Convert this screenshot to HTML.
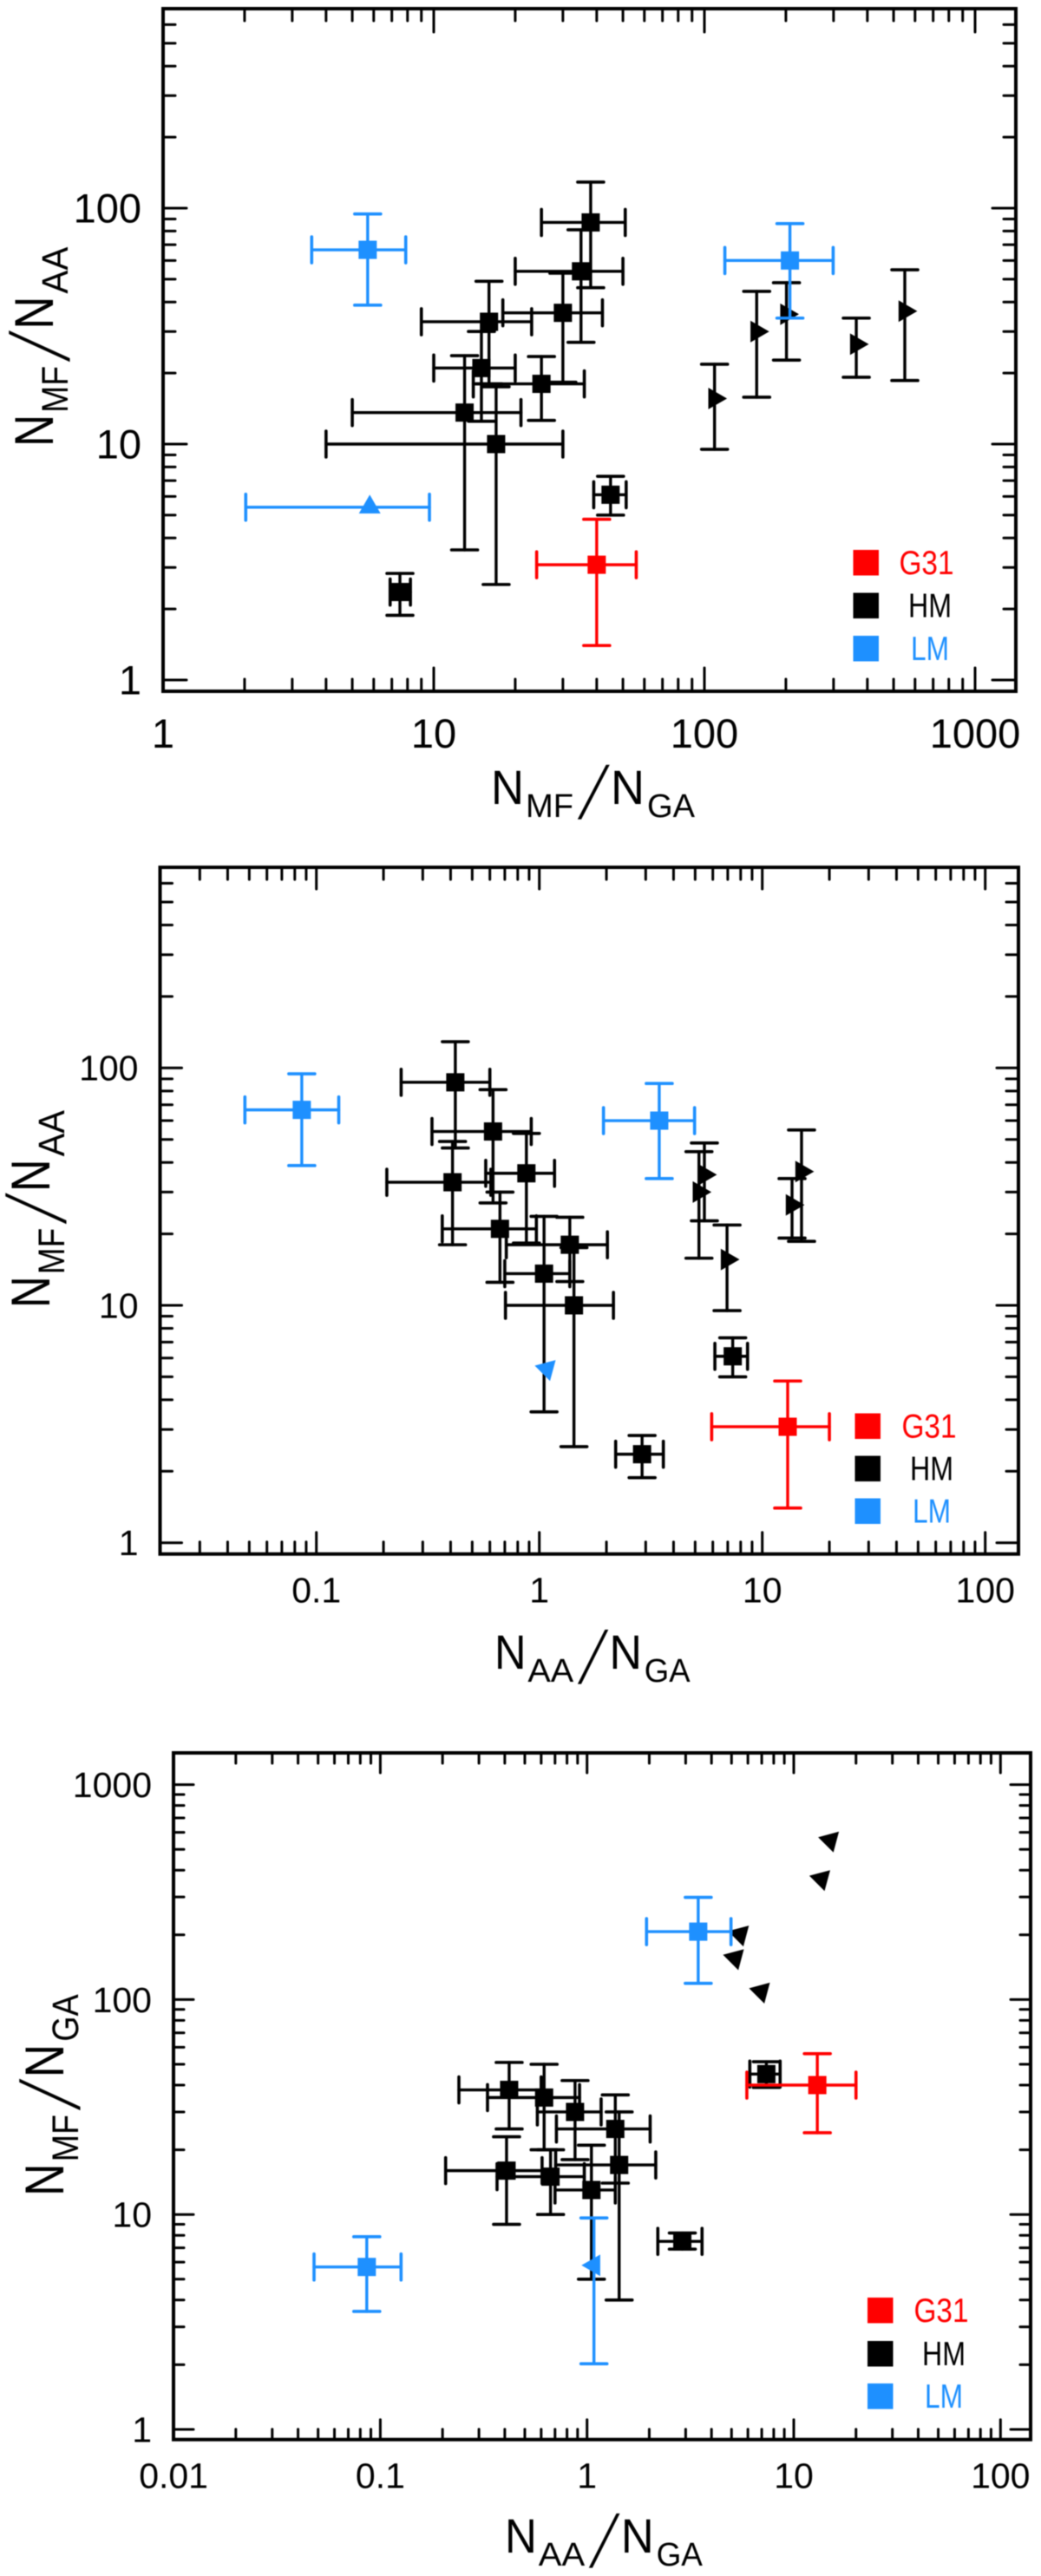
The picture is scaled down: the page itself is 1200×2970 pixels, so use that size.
<!DOCTYPE html>
<html lang="en">
<head>
<meta charset="utf-8">
<title>Molecular abundance ratio diagrams</title>
<style>
html,body{margin:0;padding:0;background:#fff}
svg{display:block;filter:blur(0.5px)}
text{font-family:"Liberation Sans",sans-serif}
</style>
</head>
<body>
<svg id="figure" xmlns="http://www.w3.org/2000/svg" width="1200" height="2970" viewBox="0 0 1200 2970"></svg>
<script>
// ---- data: source groups and marker kinds ----
const sourceGroup = ['HM','HM','HM','HM','HM','HM','HM','HM','HM','HM','HM','HM','HM','HM','HM','LM','LM','LM','G31'];
const sourceKind = ['box','box','box','box','box','box','box','box','box','box','limit','limit','limit','limit','limit','box','box','limit','box'];

// ---- data: N_MF / N_AA ----
const nmfNaa   = [87,54,36,33,21,18,13.6,10,6.1,2.36,15.6,30,35.5,26.5,36.6,66.6,60,5.4,3.08];
const nmfNaaLo = [46,27,18.3,18,12.5,12.6,3.56,2.54,5,1.88,9.5,15.8,22.7,19.2,18.6,38.8,34.2,null,1.4];
const nmfNaaHi = [129,81,53,49,30,23.5,23.7,17.5,7.3,2.83,21.8,44.4,48.3,34.2,54.8,94.5,86,null,4.8];

// ---- data: N_MF / N_GA ----
const nmfNga   = [38,35,30,16,15,25,13,17,45,7.5,109,156,201,364,550,5.7,207,5.8,40];
const nmfNgaLo = [25,20,18,9,10,14,5,4,39,6.9,null,null,null,null,null,3.54,119,2.02,24];
const nmfNgaHi = [51,50,42,23,20,36,21,30,51.4,8.2,null,null,null,null,null,7.88,299,9.64,56];

// ---- data: N_AA / N_GA ----
const naaNga   = [0.42,0.62,0.875,0.408,0.666,1.37,1.05,1.43,7.37,2.89,6.95,5.2,5.5,13.6,15,0.086,3.45,1.08,13];
const naaNgaLo = [0.24,0.33,0.575,0.207,0.367,0.711,0.70,0.705,6.13,2.2,null,null,null,null,null,0.0478,1.94,null,5.93];
const naaNgaHi = [0.6,0.92,1.17,0.606,0.97,2.02,1.37,2.15,8.59,3.6,null,null,null,null,null,0.126,4.97,null,20];

// ---- data: tick labels ----
const xLabelsA = ['1','10','100','1000'];
const xLabelsB = ['0.1','1','10','100'];
const xLabelsC = ['0.01','0.1','1','10','100'];
const yLabelsA = ['1','10','100'];
const yLabelsC = ['1','10','100','1000'];
const legendEntries = ['G31','HM','LM'];

const colors = {G31:'#ff0000', HM:'#000000', LM:'#1e90ff'};
const NS = 'http://www.w3.org/2000/svg';
const root = document.getElementById('figure');

function mk(parent, tag, attrs, name) {
  const el = document.createElementNS(NS, tag);
  for (const k in attrs) el.setAttribute(k, attrs[k]);
  
  
  parent.appendChild(el);
  return el;
}
function logScale(refValue, refPx, decadePx) {
  return v => refPx + decadePx * (Math.log10(v) - Math.log10(refValue));
}
function seg(g, x1, y1, x2, y2, color, w, name) {
  return mk(g, 'line', {x1, y1, x2, y2, stroke: color, 'stroke-width': w, 'stroke-linecap': 'round'}, name);
}
function logTicks(minV, maxV) {
  const out = [];
  for (let e = -3; e <= 4; e++) {
    for (let m = 1; m <= 9; m++) {
      const v = m * Math.pow(10, e);
      if (v >= minV * 0.9999 && v <= maxV * 1.0001) out.push({v, major: m === 1, e});
    }
  }
  return out;
}
function label(g, txt, x, y, size, anchor, color, name, len) {
  const attrs = {x, y, 'font-size': size, 'text-anchor': anchor, fill: color};
  if (len) { attrs.textLength = len; attrs.lengthAdjust = 'spacingAndGlyphs'; }
  const el = mk(g, 'text', attrs, name);
  el.textContent = txt;
  return el;
}
function title(parent, n1, s1, n2, s2, x, y, rotate, scale, cross, name) {
  const tf = 'translate(' + x + ' ' + y + ')' + (rotate ? ' rotate(-90)' : '') + ' scale(' + scale + ' ' + cross + ')';
  const g = mk(parent, 'g', {transform: tf}, name);
  const slash = label(g, '/', 0, 0, 89, 'start', '#000', 'title-slash');
  slash.setAttribute('transform', 'translate(98 18) skewX(-14)');
  slash.setAttribute('stroke', '#fff');
  slash.setAttribute('stroke-width', '2.6');
  label(g, n1, 0, 0, 56, 'start', '#000', 'title-numerator-letter', 38);
  label(g, s1, 40, 15, 38, 'start', '#000', 'title-numerator-subscript', 55);
  label(g, n2, 138, 0, 56, 'start', '#000', 'title-denominator-letter', 39);
  label(g, s2, 180, 15, 38, 'start', '#000', 'title-denominator-subscript', 55);
}

function drawPanel(p) {
  const g = mk(root, 'g', {}, p.name);
  const xs = logScale(p.xRef[0], p.xRef[1], p.xDecade);
  const ys = logScale(p.yRef[0], p.yRef[1], -p.yDecade);
  const minX = Math.pow(10, Math.log10(p.xRef[0]) + (p.left - p.xRef[1]) / p.xDecade);
  const maxX = Math.pow(10, Math.log10(p.xRef[0]) + (p.right - p.xRef[1]) / p.xDecade);
  const minY = Math.pow(10, Math.log10(p.yRef[0]) + (p.yRef[1] - p.bottom) / p.yDecade);
  const maxY = Math.pow(10, Math.log10(p.yRef[0]) + (p.yRef[1] - p.top) / p.yDecade);

  const axes = mk(g, 'g', {}, 'axes');
  mk(axes, 'rect', {x: p.left, y: p.top, width: p.right - p.left, height: p.bottom - p.top, fill: 'none', stroke: '#000', 'stroke-width': 4}, 'plot-frame');
  logTicks(minX, maxX).forEach(t => {
    const px = xs(t.v), len = t.major ? p.major : p.minor;
    if (px - p.left < 2 || p.right - px < 2) return;
    seg(axes, px, p.bottom, px, p.bottom - len, '#000', 3, 'x-tick');
    seg(axes, px, p.top, px, p.top + len, '#000', 3, 'x-tick-top');
  });
  logTicks(minY, maxY).forEach(t => {
    const py = ys(t.v), len = t.major ? p.major : p.minor;
    if (py - p.top < 2 || p.bottom - py < 2) return;
    seg(axes, p.left, py, p.left + len, py, '#000', 3, 'y-tick');
    seg(axes, p.right, py, p.right - len, py, '#000', 3, 'y-tick-right');
  });
  p.xLabels.forEach(s => {
    label(axes, s, xs(parseFloat(s)), p.bottom + p.xLabelDy, p.tickFont, 'middle', '#000', 'x-tick-label');
  });
  p.yLabels.forEach(s => {
    label(axes, s, p.left - 25, ys(parseFloat(s)) + p.tickFont * 0.35, p.tickFont, 'end', '#000', 'y-tick-label');
  });
  title(g, 'N', p.xTitle[0], 'N', p.xTitle[1], p.xTitleX, p.xTitleY, false, p.xTitleScale, 1, 'x-axis-title');
  title(g, 'N', p.yTitle[0], 'N', p.yTitle[1], p.yTitleX, p.yTitleY, true, p.yTitleScale, 1.12, 'y-axis-title');

  const marks = mk(g, 'g', {}, 'data-points');
  sourceGroup.forEach((grp, i) => {
    const c = colors[grp];
    const px = xs(p.x[i]), py = ys(p.y[i]);
    const pt = mk(marks, 'g', {}, 'point-' + grp.toLowerCase() + '-' + i);
    if (p.xLo[i] !== null) {
      const a = xs(p.xLo[i]), b = xs(p.xHi[i]);
      seg(pt, a, py, b, py, c, 3.4, 'x-error-bar');
      seg(pt, a, py - 15, a, py + 15, c, 3.6, 'x-error-cap');
      seg(pt, b, py - 15, b, py + 15, c, 3.6, 'x-error-cap');
    }
    if (p.yLo[i] !== null) {
      const a = ys(p.yLo[i]), b = ys(p.yHi[i]);
      seg(pt, px, a, px, b, c, 3.4, 'y-error-bar');
      seg(pt, px - 15, a, px + 15, a, c, 3.6, 'y-error-cap');
      seg(pt, px - 15, b, px + 15, b, c, 3.6, 'y-error-cap');
    }
    if (sourceKind[i] === 'box') {
      mk(pt, 'rect', {x: px - 10.5, y: py - 10.5, width: 21, height: 21, fill: c}, 'square-marker');
    } else {
      const deg = grp === 'LM' ? p.lmAngle : p.hmAngle;
      const verts = [0, 120, 240].map(d => {
        const r = (deg + d) * Math.PI / 180;
        return (px + 14.4 * Math.cos(r)).toFixed(1) + ',' + (py + 14.4 * Math.sin(r)).toFixed(1);
      }).join(' ');
      mk(pt, 'polygon', {points: verts, fill: c}, 'limit-triangle-marker');
    }
  });

  const legend = mk(g, 'g', {}, 'legend');
  legendEntries.forEach((name, i) => {
    const c = colors[name];
    mk(legend, 'rect', {x: p.legendX, y: p.legendY[i], width: 29.5, height: 29.5, fill: c}, 'legend-swatch-' + name.toLowerCase());
    label(legend, name, p.legendTextX[i], p.legendY[i] + 28, 39, 'middle', c, 'legend-label-' + name.toLowerCase(), [63, 50, 44][i]);
  });
}

drawPanel({
  name: 'panel-mf-aa-vs-mf-ga', left: 188, right: 1171, top: 10, bottom: 797,
  xRef: [1, 188], xDecade: 312, yRef: [1, 784], yDecade: 272,
  major: 27, minor: 14, tickFont: 47, xLabelDy: 65,
  x: nmfNga, xLo: nmfNgaLo, xHi: nmfNgaHi, y: nmfNaa, yLo: nmfNaaLo, yHi: nmfNaaHi,
  xLabels: xLabelsA, yLabels: yLabelsA,
  xTitle: ['MF','GA'], yTitle: ['MF','AA'],
  xTitleX: 566, xTitleY: 927, xTitleScale: 1, yTitleX: 61, yTitleY: 515, yTitleScale: 0.98,
  hmAngle: 0, lmAngle: -90,
  legendX: 983.5, legendY: [634, 683.5, 733], legendTextX: [1068, 1072, 1072]
});
drawPanel({
  name: 'panel-mf-aa-vs-aa-ga', left: 184.5, right: 1174, top: 1000, bottom: 1791.7,
  xRef: [1, 621.7], xDecade: 257, yRef: [1, 1778.7], yDecade: 273.7,
  major: 25, minor: 14, tickFont: 41, xLabelDy: 56,
  x: naaNga, xLo: naaNgaLo, xHi: naaNgaHi, y: nmfNaa, yLo: nmfNaaLo, yHi: nmfNaaHi,
  xLabels: xLabelsB, yLabels: yLabelsA,
  xTitle: ['AA','GA'], yTitle: ['MF','AA'],
  xTitleX: 570, xTitleY: 1924, xTitleScale: 0.96, yTitleX: 57, yTitleY: 1508, yTitleScale: 0.97,
  hmAngle: 0, lmAngle: 75,
  legendX: 985.5, legendY: [1629.5, 1678.5, 1727.5], legendTextX: [1071, 1074, 1074]
});
drawPanel({
  name: 'panel-mf-ga-vs-aa-ga', left: 200, right: 1188, top: 2021, bottom: 2812.7,
  xRef: [1, 676.7], xDecade: 238.3, yRef: [1, 2801], yDecade: 247.8,
  major: 23, minor: 12, tickFont: 41, xLabelDy: 56,
  x: naaNga, xLo: naaNgaLo, xHi: naaNgaHi, y: nmfNga, yLo: nmfNgaLo, yHi: nmfNgaHi,
  xLabels: xLabelsC, yLabels: yLabelsC,
  xTitle: ['AA','GA'], yTitle: ['MF','GA'],
  xTitleX: 582, xTitleY: 2943, xTitleScale: 0.97, yTitleX: 73, yTitleY: 2532, yTitleScale: 0.99,
  hmAngle: 75, lmAngle: 180,
  legendX: 1000, legendY: [2649, 2699, 2748], legendTextX: [1085, 1088, 1088]
});
</script>
</body>
</html>
